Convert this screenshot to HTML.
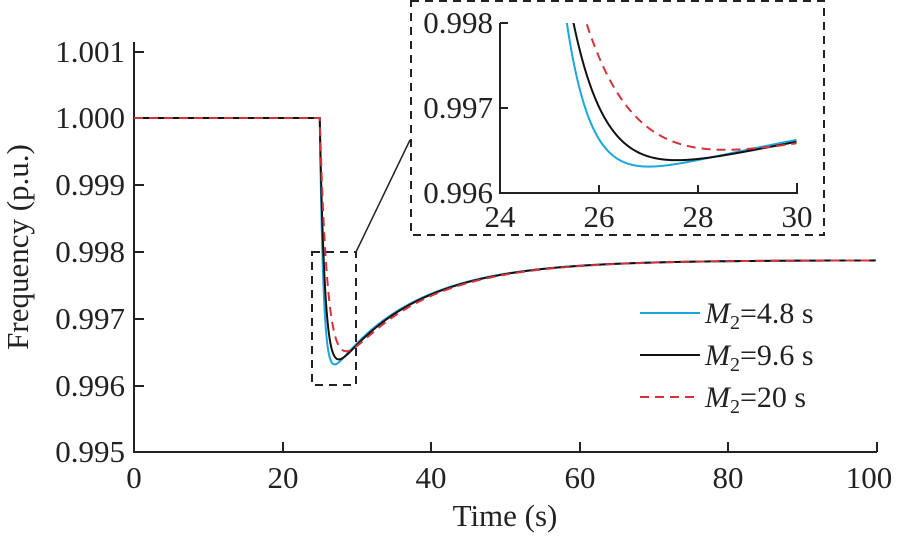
<!DOCTYPE html>
<html><head><meta charset="utf-8"><style>
body{margin:0;background:#fff}
svg text{font-family:"Liberation Serif",serif;fill:#222}
</style></head><body>
<svg id="s" width="903" height="535" viewBox="0 0 903 535" xmlns="http://www.w3.org/2000/svg">
<defs><clipPath id="ci"><rect x="500" y="23" width="297" height="170"/></clipPath></defs>
<g stroke="#222" stroke-width="2" fill="none">
<path d="M134,42V452H877"/>
<path d="M134,52h10M134,118h10M134,185h10M134,252h10M134,319h10M134,386h10"/>
<path d="M283,452v-10M431,452v-10M580,452v-10M728,452v-10M877,452v-10"/>
<path d="M500,23V193H797V183M500,23h8M500,108h8M599,193v-8M698,193v-8"/>
<path d="M356,252L410,140" stroke-width="1.5"/>
</g>
<g stroke="#222" stroke-width="2" fill="none" stroke-dasharray="8,6">
<rect x="411" y="1" width="413" height="234"/>
<rect x="312" y="252" width="44" height="133"/>
</g>
<g font-size="31" text-anchor="end">
<text x="125" y="62">1.001</text><text x="125" y="128">1.000</text><text x="125" y="195">0.999</text>
<text x="125" y="262">0.998</text><text x="125" y="329">0.997</text><text x="125" y="396">0.996</text>
<text x="125" y="462">0.995</text>
<text x="493" y="33">0.998</text><text x="493" y="118">0.997</text><text x="493" y="203">0.996</text>
</g>
<g font-size="31" text-anchor="middle">
<text x="134" y="488">0</text><text x="283" y="488">20</text><text x="431" y="488">40</text>
<text x="580" y="488">60</text><text x="728" y="488">80</text><text x="869" y="488">100</text>
<text x="500" y="227">24</text><text x="599" y="227">26</text><text x="698" y="227">28</text><text x="797" y="227">30</text>
<text x="505" y="526">Time (s)</text>
<text transform="translate(28,247) rotate(-90)">Frequency (p.u.)</text>
</g>
<g id="curves" fill="none" stroke-width="2"></g>
<g font-size="30">
<line x1="640" y1="313" x2="700" y2="313" stroke="#1aa7dd" stroke-width="2"/>
<line x1="640" y1="355" x2="700" y2="355" stroke="#111" stroke-width="2"/>
<line x1="640" y1="397" x2="700" y2="397" stroke="#d4333b" stroke-width="2" stroke-dasharray="9,6"/>
<text x="705" y="323"><tspan font-style="italic">M</tspan><tspan font-size="20" dy="6">2</tspan><tspan dy="-6">=4.8 s</tspan></text>
<text x="705" y="365"><tspan font-style="italic">M</tspan><tspan font-size="20" dy="6">2</tspan><tspan dy="-6">=9.6 s</tspan></text>
<text x="705" y="407"><tspan font-style="italic">M</tspan><tspan font-size="20" dy="6">2</tspan><tspan dy="-6">=20 s</tspan></text>
</g>
</svg>
<script>
var S=[{c:"#1aa7dd",a:2.0,K:0.00196,d:""},{c:"#111",a:1.45,K:0.00200,d:""},{c:"#d4333b",a:0.95,K:0.00208,d:"9,6"}];
var dss=0.00213,g=document.getElementById("curves");
function f(p,t){if(t<25)return 1;var s=t-25;return 1-(dss+p.K*Math.exp(-s/11)-(dss+p.K)*Math.exp(-p.a*s));}
function mk(d,p,extra){var e=document.createElementNS("http://www.w3.org/2000/svg","path");e.setAttribute("d",d);e.setAttribute("stroke",p.c);if(p.d)e.setAttribute("stroke-dasharray",p.d);if(extra)e.setAttribute("clip-path","url(#ci)");g.appendChild(e);}
S.forEach(function(p){
var d="",t;
for(t=0;t<=100;t+=(t>=24.8&&t<32)?0.02:0.2){var x=134+7.43*t,y=118+(1-f(p,t))*66800;d+=(d?"L":"M")+x.toFixed(2)+","+y.toFixed(2);}
mk(d,p,false);
d="";
for(t=24;t<=30;t+=0.01){var x=500+49.5*(t-24),y=23+(0.998-f(p,t))*85000;d+=(d?"L":"M")+x.toFixed(2)+","+y.toFixed(2);}
mk(d,p,true);
});
</script>
</body></html>
